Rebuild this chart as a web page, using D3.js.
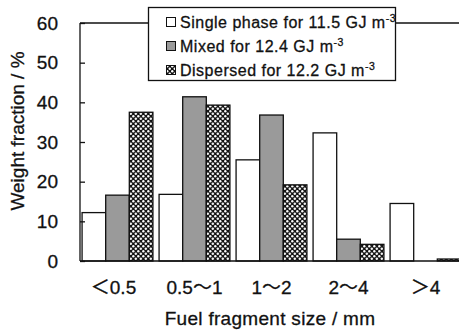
<!DOCTYPE html>
<html>
<head>
<meta charset="utf-8">
<script src="https://cdn.jsdelivr.net/npm/d3@7"></script>
<style>
  body { margin: 0; background: #fff; }
  text { font-family: "Liberation Sans", Arial, "Noto Sans CJK JP", sans-serif; fill: #111; stroke: #111; stroke-width: 0.3; }
</style>
</head>
<body>
<div id="chart"></div>
<script>
// fragment size classes (full-width symbols as in the original)
const categories = ["＜0.5", "0.5～1", "1～2", "2～4", "＞4"];
const seriesKeys = ["single", "mixed", "dispersed"];
const seriesLabels = ["Single phase for 11.5 GJ m", "Mixed for 12.4 GJ m", "Dispersed for 12.2 GJ m"];
const single = [12.2, 16.8, 25.5, 32.3, 14.5];
const mixed = [16.6, 41.4, 36.8, 5.5, 0];
const dispersed = [37.5, 39.3, 19.2, 4.2, 0.5];
const yTicks = [0, 10, 20, 30, 40, 50, 60];

const width = 459, height = 330;
const values = { single, mixed, dispersed };

const svg = d3.select("#chart").append("svg")
  .attr("width", width)
  .attr("height", height);

// pattern for the dispersed bars: black with white dots
const defs = svg.append("defs");
const pat = defs.append("pattern")
  .attr("id", "dots")
  .attr("patternUnits", "userSpaceOnUse")
  .attr("width", 5).attr("height", 5);
pat.append("rect").attr("width", 5).attr("height", 5).attr("fill", "#111");
pat.append("circle").attr("cx", 1.25).attr("cy", 1.25).attr("r", 1.2).attr("fill", "#fff");
pat.append("circle").attr("cx", 3.75).attr("cy", 3.75).attr("r", 1.2).attr("fill", "#fff");

const fills = { single: "#fff", mixed: "#9a9a9a", dispersed: "url(#dots)" };

const axisX = 80;
const y = d3.scaleLinear().domain([0, 60]).range([261, 23]);
const x = d3.scaleBand().domain(categories).range([79, 464])
  .paddingInner(0.08).paddingOuter(0.04);
const xs = d3.scaleBand().domain(seriesKeys).range([0, x.bandwidth()]);

// bars
const groups = svg.append("g").selectAll("g")
  .data(categories)
  .join("g")
    .attr("transform", d => `translate(${x(d)},0)`);

groups.selectAll("rect")
  .data((d, i) => seriesKeys.map(k => ({ key: k, value: values[k][i] })))
  .join("rect")
    .attr("x", d => xs(d.key))
    .attr("y", d => y(d.value))
    .attr("width", xs.bandwidth())
    .attr("height", d => y(0) - y(d.value))
    .attr("fill", d => fills[d.key])
    .attr("stroke", d => d.value > 0 ? "#111" : "none")
    .attr("stroke-width", 1.3);

// frame lines: left axis, bottom axis, top line
svg.append("line")
  .attr("x1", axisX).attr("x2", axisX)
  .attr("y1", y(60)).attr("y2", y(0))
  .attr("stroke", "#111").attr("stroke-width", 1.3);
svg.append("line")
  .attr("x1", axisX).attr("x2", width)
  .attr("y1", y(0)).attr("y2", y(0))
  .attr("stroke", "#111").attr("stroke-width", 1.3);
svg.append("line")
  .attr("x1", axisX).attr("x2", width)
  .attr("y1", y(60)).attr("y2", y(60))
  .attr("stroke", "#111").attr("stroke-width", 1.3);

// y axis (ticks inward)
const yAxis = d3.axisLeft(y).tickValues(yTicks).tickSize(-5).tickPadding(22);
const yg = svg.append("g")
  .attr("transform", `translate(${axisX},0)`)
  .call(yAxis);
yg.select(".domain").remove();
yg.selectAll(".tick line").attr("stroke", "#111").attr("stroke-width", 1.3);
yg.selectAll(".tick text")
  .attr("font-size", 19)
  .attr("font-family", null)
  .attr("fill", "#111");

// x axis labels
const xAxis = d3.axisBottom(x).tickSize(0).tickPadding(20);
const xg = svg.append("g")
  .attr("transform", `translate(0,${y(0)})`)
  .call(xAxis);
xg.select(".domain").remove();
xg.selectAll(".tick text")
  .attr("font-size", 19)
  .attr("font-family", null)
  .attr("fill", "#111")
  .attr("dx", (d, i) => i === 0 ? -4 : 0);

// axis titles
svg.append("text")
  .attr("x", 270).attr("y", 325)
  .attr("text-anchor", "middle")
  .attr("font-size", 19)
  .attr("letter-spacing", 0.3)
  .text("Fuel fragment size / mm");

svg.append("text")
  .attr("transform", "translate(24,131) rotate(-90)")
  .attr("text-anchor", "middle")
  .attr("font-size", 19)
  .text("Weight fraction / %");

// legend
const legend = svg.append("g");
legend.append("rect")
  .attr("x", 148.5).attr("y", 7.5)
  .attr("width", 247).attr("height", 73)
  .attr("fill", "#fff")
  .attr("stroke", "#111").attr("stroke-width", 1.3);

const rows = legend.selectAll("g.row")
  .data(seriesKeys)
  .join("g")
    .attr("class", "row")
    .attr("transform", (d, i) => `translate(166,${22 + i * 24})`);

rows.append("rect")
  .attr("x", 0.5).attr("y", -4.5)
  .attr("width", 9).attr("height", 9)
  .attr("fill", d => fills[d])
  .attr("stroke", "#111").attr("stroke-width", 1);

const lt = rows.append("text")
  .attr("x", 14).attr("y", 6)
  .attr("font-size", 16)
  .attr("letter-spacing", 0.5)
  .text((d, i) => seriesLabels[i]);
lt.append("tspan")
  .attr("font-size", 10.5)
  .attr("dy", -6)
  .text("-3");
</script>
</body>
</html>
